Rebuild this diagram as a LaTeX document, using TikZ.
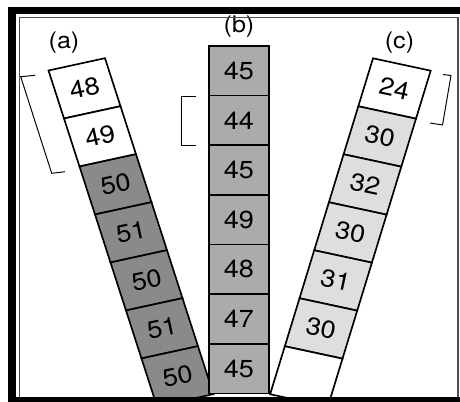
\documentclass[tikz,border=0pt]{standalone}
\usepackage{fontspec}
\setmainfont{TeX Gyre Heros}
\tikzset{
  darkcell/.style={draw=black, line width=0.95pt, fill=black!46},
  midcell/.style={draw=black, line width=0.95pt, fill=black!33},
  lightcell/.style={draw=black, line width=0.95pt, fill=black!13},
  whitecell/.style={draw=black, line width=0.95pt, fill=white},
  num/.style={font=\fontsize{14}{16}\selectfont, inner sep=0pt},
  caption/.style={font=\fontsize{13}{15}\selectfont, inner sep=0pt},
  bracket/.style={line width=0.55pt}
}
\begin{document}
\begin{tikzpicture}[x=0.02cm, y=-0.02cm]
\useasboundingbox (0,0) rectangle (460,402);
% Column (a)
\begin{scope}[shift={(48.5,70.5)}, x={(1.13cm,0.246cm)}, y={(0.31cm,-0.96cm)}]
  \filldraw[whitecell] (0,0) -- (1,0) -- (1,1) -- (0,1) -- cycle;
  \node[num, rotate=12, xscale=1.1] (a1) at (0.5,0.5) {48};
  \filldraw[whitecell] (0,1) -- (1,1) -- (1,2) -- (0,2) -- cycle;
  \node[num, rotate=12, xscale=1.1] (a2) at (0.5,1.5) {49};
  \filldraw[darkcell] (0,2) -- (1,2) -- (1,3) -- (0,3) -- cycle;
  \node[num, rotate=12, xscale=1.1] (a3) at (0.5,2.5) {50};
  \filldraw[darkcell] (0,3) -- (1,3) -- (1,4) -- (0,4) -- cycle;
  \node[num, rotate=12, xscale=1.1] (a4) at (0.5,3.5) {51};
  \filldraw[darkcell] (0,4) -- (1,4) -- (1,5) -- (0,5) -- cycle;
  \node[num, rotate=12, xscale=1.1] (a5) at (0.5,4.5) {50};
  \filldraw[darkcell] (0,5) -- (1,5) -- (1,6) -- (0,6) -- cycle;
  \node[num, rotate=12, xscale=1.1] (a6) at (0.5,5.5) {51};
  \filldraw[darkcell] (0,6) -- (1,6) -- (1,7) -- (0,7) -- cycle;
  \node[num, rotate=12, xscale=1.1] (a7) at (0.5,6.5) {50};
\end{scope}
% Column (b)
\begin{scope}[shift={(209,46)}, x={(1.2cm,0cm)}, y={(0cm,-0.993cm)}]
  \filldraw[midcell] (0,0) rectangle (1,1);
  \node[num, xscale=1.1] (b1) at (0.5,0.5) {45};
  \filldraw[midcell] (0,1) rectangle (1,2);
  \node[num, xscale=1.1] (b2) at (0.5,1.5) {44};
  \filldraw[midcell] (0,2) rectangle (1,3);
  \node[num, xscale=1.1] (b3) at (0.5,2.5) {45};
  \filldraw[midcell] (0,3) rectangle (1,4);
  \node[num, xscale=1.1] (b4) at (0.5,3.5) {49};
  \filldraw[midcell] (0,4) rectangle (1,5);
  \node[num, xscale=1.1] (b5) at (0.5,4.5) {48};
  \filldraw[midcell] (0,5) rectangle (1,6);
  \node[num, xscale=1.1] (b6) at (0.5,5.5) {47};
  \filldraw[midcell] (0,6) rectangle (1,7);
  \node[num, xscale=1.1] (b7) at (0.5,6.5) {45};
\end{scope}
% Column (c)
\begin{scope}[shift={(373,58.3)}, x={(1.154cm,-0.248cm)}, y={(-0.294cm,-0.96cm)}]
  \filldraw[whitecell] (0,0) -- (1,0) -- (1,1) -- (0,1) -- cycle;
  \node[num, rotate=-12, xscale=1.1] (c1) at (0.5,0.5) {24};
  \filldraw[lightcell] (0,1) -- (1,1) -- (1,2) -- (0,2) -- cycle;
  \node[num, rotate=-12, xscale=1.1] (c2) at (0.5,1.5) {30};
  \filldraw[lightcell] (0,2) -- (1,2) -- (1,3) -- (0,3) -- cycle;
  \node[num, rotate=-12, xscale=1.1] (c3) at (0.5,2.5) {32};
  \filldraw[lightcell] (0,3) -- (1,3) -- (1,4) -- (0,4) -- cycle;
  \node[num, rotate=-12, xscale=1.1] (c4) at (0.5,3.5) {30};
  \filldraw[lightcell] (0,4) -- (1,4) -- (1,5) -- (0,5) -- cycle;
  \node[num, rotate=-12, xscale=1.1] (c5) at (0.5,4.5) {31};
  \filldraw[lightcell] (0,5) -- (1,5) -- (1,6) -- (0,6) -- cycle;
  \node[num, rotate=-12, xscale=1.1] (c6) at (0.5,5.5) {30};
  \filldraw[whitecell] (0,6) -- (1,6) -- (1,7) -- (0,7) -- cycle;
\end{scope}
% Brackets
\draw[bracket] (35,75.3) -- (20.7,76.7) -- (51.7,173.3) -- (65,171.7);
\draw[bracket] (196,96.7) -- (181.7,96.7) -- (181.7,145.7) -- (196,145.7);
\draw[bracket] (443,74.5) -- (451,75.5) -- (442.5,125) -- (430,123);
% Labels
\node[caption, xscale=1.1] (la) at (64,42.5) {(a)};
\node[caption, xscale=1.1] (lb) at (239,27) {(b)};
\node[caption, xscale=1.1] (lc) at (399.5,42.5) {(c)};
% Frame
\fill[black] (8,7) rectangle (460,14.5);
\fill[black] (8,7) rectangle (16,402);
\fill[black] (8,396.5) rectangle (460,402);
\draw[black!70, line width=0.6pt] (19.5,396.5) -- (19.5,17.5) -- (458,17.5) -- (458,396.5);
\end{tikzpicture}
\end{document}
